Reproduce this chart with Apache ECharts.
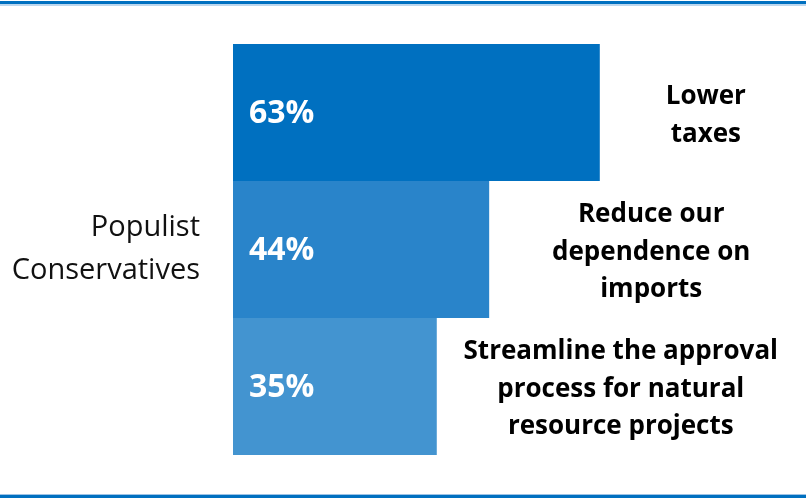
<!DOCTYPE html>
<html>
<head>
<meta charset="utf-8">
<script src="https://cdn.jsdelivr.net/npm/echarts@6/dist/echarts.min.js"></script>
<style>html,body{margin:0;padding:0;background:#fff}#c{width:806px;height:498px}</style>
</head>
<body>
<div id="c"></div>
<script>
const categories = ['Populist\nConservatives'];
const items = ['Lower\ntaxes', 'Reduce our\ndependence on\nimports', 'Streamline the approval\nprocess for natural\nresource projects'];
const values = [63, 44, 35];
const colors = ['#0070C0', '#2984CA', '#4394D0'];
const labelDistances = [106, 162, 184];

const FONT = '"Open Sans"';
const chart = echarts.init(document.getElementById('c'), null, {renderer: 'canvas'});

const series = [];
values.forEach((v, i) => {
  series.push({
    type: 'bar', name: items[i], xAxisIndex: 0, yAxisIndex: 0,
    data: [v], barGap: '0%', barCategoryGap: '0%',
    itemStyle: {color: colors[i]},
    label: {show: true, position: 'insideLeft', distance: 16, formatter: '{c}%',
      color: '#fff', fontFamily: FONT, fontWeight: 'bold', fontSize: 32, offset: [0, 1]},
    silent: true
  });
});
values.forEach((v, i) => {
  series.push({
    type: 'bar', name: items[i] + ' label', xAxisIndex: 1, yAxisIndex: 1,
    data: [v], barGap: '0%', barCategoryGap: '0%',
    itemStyle: {color: 'rgba(0,0,0,0)'},
    label: {show: true, position: 'right', distance: labelDistances[i], align: 'center',
      formatter: items[i], color: '#000', fontFamily: FONT, fontWeight: 'bold',
      fontSize: 26, lineHeight: 37.5, offset: [0, 3]},
    silent: true
  });
});

chart.setOption({
  animation: false,
  grid: {left: 233, right: 49, top: 44, bottom: 43},
  xAxis: [
    {type: 'value', min: 0, max: 90, show: false},
    {type: 'value', min: 0, max: 90, show: false}
  ],
  yAxis: [
    {type: 'category', data: categories, inverse: true,
      axisLine: {show: false}, axisTick: {show: false}, splitLine: {show: false},
      axisLabel: {margin: 33, color: '#111', fontFamily: FONT, fontSize: 29, lineHeight: 43, align: 'right'}},
    {type: 'category', data: categories, inverse: true, show: false}
  ],
  series: series,
  graphic: [
    {type: 'rect', shape: {x: 0, y: 4, width: 806, height: 2}, style: {fill: '#BDD7EE'}, silent: true},
    {type: 'rect', shape: {x: 0, y: 1, width: 806, height: 3}, style: {fill: '#0070C0'}, silent: true},
    {type: 'rect', shape: {x: 0, y: 494, width: 806, height: 1}, style: {fill: '#9DC3E6'}, silent: true},
    {type: 'rect', shape: {x: 0, y: 495, width: 806, height: 3}, style: {fill: '#0070C0'}, silent: true}
  ]
});
</script>
</body>
</html>
